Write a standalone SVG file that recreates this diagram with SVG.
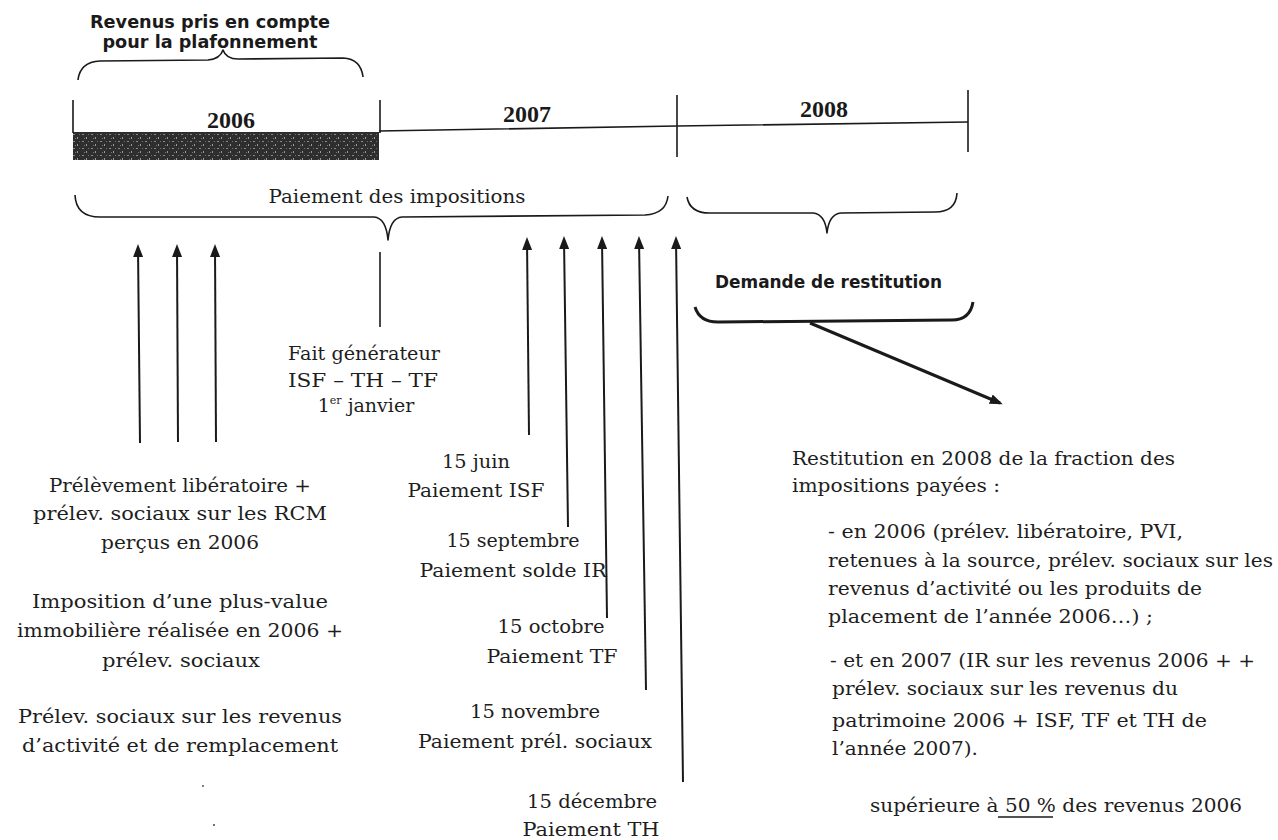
<svg xmlns="http://www.w3.org/2000/svg" width="1278" height="840" viewBox="0 0 1278 840">
<defs>
<style>
.ln{stroke:#1a1a1a;stroke-width:1.6;fill:none}
.ar{stroke:#1a1a1a;stroke-width:2;fill:none;marker-end:url(#ah)}
.br{stroke:#1a1a1a;stroke-width:1.6;fill:none;stroke-linejoin:round}
.t{font-family:"DejaVu Serif","Liberation Serif",serif;font-size:19px;fill:#1e1e1e}
.m{text-anchor:middle}
.yr{font-family:"Liberation Serif",serif;font-weight:bold;font-size:24px;fill:#1a1a1a;text-anchor:middle}
.s{font-family:"DejaVu Sans","Liberation Sans",sans-serif;font-weight:bold;font-size:17px;fill:#1a1a1a}
</style>
<marker id="ah" markerUnits="userSpaceOnUse" markerWidth="13" markerHeight="10" refX="10" refY="5" orient="auto">
<path d="M0,0 L13,5 L0,10 z" fill="#1a1a1a"/>
</marker>
<pattern id="speck" width="9" height="7" patternUnits="userSpaceOnUse">
<rect width="9" height="7" fill="#2e2e2e"/>
<rect x="1" y="1" width="2" height="1" fill="#8a8a8a"/>
<rect x="5" y="4" width="1" height="2" fill="#9a9a9a"/>
<rect x="7" y="1" width="1" height="1" fill="#6f6f6f"/>
<rect x="3" y="5" width="1" height="1" fill="#777"/>
</pattern>
</defs>

<g id="header">
<text class="s m" x="210" y="28" textLength="240" lengthAdjust="spacingAndGlyphs">Revenus pris en compte</text>
<text class="s m" x="210" y="48" textLength="215" lengthAdjust="spacingAndGlyphs">pour la plafonnement</text>
<path class="br" d="M78,80 Q80,62 100,61 L208,60 Q220,59 223,50 Q226,59 238,59 L343,58 Q361,59 363,77"/>
</g>

<g id="timeline">
<rect x="73" y="132" width="306" height="28" fill="url(#speck)"/>
<path class="ln" d="M73,100 L73,133"/>
<path class="ln" d="M380,100 L380,133"/>
<path class="ln" d="M379,131 L677,126 L968,122"/>
<path class="ln" d="M677,95 L677,157"/>
<path class="ln" d="M968,90 L968,152"/>
<text class="yr" x="231" y="128">2006</text>
<text class="yr" x="527" y="122">2007</text>
<text class="yr" x="824" y="117">2008</text>
</g>

<g id="paiement">
<text class="t m" x="397" y="203" textLength="257" lengthAdjust="spacingAndGlyphs">Paiement des impositions</text>
<path class="br" d="M75,195 Q76,217 100,217 L374,217 Q386,218 388,240 Q390,218 402,217 L645,215 Q666,214 668,196"/>
</g>

<g id="brace2008">
<path class="br" d="M687,197 Q690,214 712,213 L813,213 Q825,214 827,233 Q829,214 841,213 L935,212 Q956,212 957,193"/>
</g>

<g id="demande">
<text class="s" x="715" y="288" textLength="227" lengthAdjust="spacingAndGlyphs">Demande de restitution</text>
<path d="M695,307 Q700,323 720,322 L952,320 Q970,320 973,302" fill="none" stroke="#1a1a1a" stroke-width="3"/>
</g>

<g id="fait">
<text class="t m" x="364" y="360" textLength="152" lengthAdjust="spacingAndGlyphs">Fait générateur</text>
<text class="t m" x="363" y="387" textLength="150" lengthAdjust="spacingAndGlyphs">ISF – TH – TF</text>
<text class="t m" x="366" y="412">1<tspan font-size="11" dy="-8">er</tspan><tspan dy="8"> janvier</tspan></text>
</g>

<g id="left-texts">
<text class="t m" x="180" y="492" textLength="262" lengthAdjust="spacingAndGlyphs">Prélèvement libératoire +</text>
<text class="t m" x="180" y="520" textLength="294" lengthAdjust="spacingAndGlyphs">prélev. sociaux sur les RCM</text>
<text class="t m" x="180" y="549" textLength="158" lengthAdjust="spacingAndGlyphs">perçus en 2006</text>
<text class="t m" x="180" y="608" textLength="296" lengthAdjust="spacingAndGlyphs">Imposition d’une plus-value</text>
<text class="t m" x="180" y="637" textLength="326" lengthAdjust="spacingAndGlyphs">immobilière réalisée en 2006 +</text>
<text class="t m" x="181" y="667" textLength="158" lengthAdjust="spacingAndGlyphs">prélev. sociaux</text>
<text class="t m" x="180" y="723" textLength="324" lengthAdjust="spacingAndGlyphs">Prélev. sociaux sur les revenus</text>
<text class="t m" x="180" y="752" textLength="316" lengthAdjust="spacingAndGlyphs">d’activité et de remplacement</text>
<circle cx="203" cy="786" r="0.9" fill="#444"/>
<circle cx="214" cy="825" r="1" fill="#444"/>
</g>

<g id="dates">
<text class="t m" x="476" y="468" textLength="68" lengthAdjust="spacingAndGlyphs">15 juin</text>
<text class="t m" x="476" y="497" textLength="137" lengthAdjust="spacingAndGlyphs">Paiement ISF</text>
<text class="t m" x="513" y="547" textLength="133" lengthAdjust="spacingAndGlyphs">15 septembre</text>
<text class="t m" x="513" y="577" textLength="187" lengthAdjust="spacingAndGlyphs">Paiement solde IR</text>
<text class="t m" x="551" y="633" textLength="107" lengthAdjust="spacingAndGlyphs">15 octobre</text>
<text class="t m" x="552" y="663" textLength="131" lengthAdjust="spacingAndGlyphs">Paiement TF</text>
<text class="t m" x="535" y="718" textLength="130" lengthAdjust="spacingAndGlyphs">15 novembre</text>
<text class="t m" x="535" y="748" textLength="234" lengthAdjust="spacingAndGlyphs">Paiement prél. sociaux</text>
<text class="t m" x="592" y="808" textLength="130" lengthAdjust="spacingAndGlyphs">15 décembre</text>
<text class="t m" x="591" y="836" textLength="137" lengthAdjust="spacingAndGlyphs">Paiement TH</text>
</g>

<g id="restitution">
<text class="t" x="792" y="465" textLength="383" lengthAdjust="spacingAndGlyphs">Restitution en 2008 de la fraction des</text>
<text class="t" x="792" y="492" textLength="208" lengthAdjust="spacingAndGlyphs">impositions payées :</text>
<text class="t" x="828" y="538" textLength="355" lengthAdjust="spacingAndGlyphs">- en 2006 (prélev. libératoire, PVI,</text>
<text class="t" x="828" y="567" textLength="445" lengthAdjust="spacingAndGlyphs">retenues à la source, prélev. sociaux sur les</text>
<text class="t" x="828" y="595" textLength="374" lengthAdjust="spacingAndGlyphs">revenus d’activité ou les produits de</text>
<text class="t" x="828" y="623" textLength="325" lengthAdjust="spacingAndGlyphs">placement de l’année 2006…) ;</text>
<text class="t" x="830" y="667" textLength="425" lengthAdjust="spacingAndGlyphs">- et en 2007 (IR sur les revenus 2006 + +</text>
<text class="t" x="832" y="695" textLength="346" lengthAdjust="spacingAndGlyphs">prélev. sociaux sur les revenus du</text>
<text class="t" x="832" y="727" textLength="375" lengthAdjust="spacingAndGlyphs">patrimoine 2006 + ISF, TF et TH de</text>
<text class="t" x="832" y="755" textLength="146" lengthAdjust="spacingAndGlyphs">l’année 2007).</text>
<text class="t" x="870" y="812" textLength="372" lengthAdjust="spacingAndGlyphs">supérieure à 50 % des revenus 2006</text>
<path class="ln" d="M998,817 L1053,817" stroke-width="1.2"/>
</g>

<g id="connectors">
<path class="ar" d="M140,443 L138,247"/>
<path class="ar" d="M178,442 L177,247"/>
<path class="ar" d="M216,442 L215,247"/>
<path class="ln" d="M380,252 L380,327"/>
<path class="ar" d="M529,435 L527,240"/>
<path class="ar" d="M568,527 L564,239"/>
<path class="ar" d="M607,618 L602,239"/>
<path class="ar" d="M646,690 L639,239"/>
<path class="ar" d="M683,782 L676,239"/>
<path d="M810,323 L1000,403" fill="none" stroke="#1a1a1a" stroke-width="3" marker-end="url(#ah)"/>
</g>
</svg>
